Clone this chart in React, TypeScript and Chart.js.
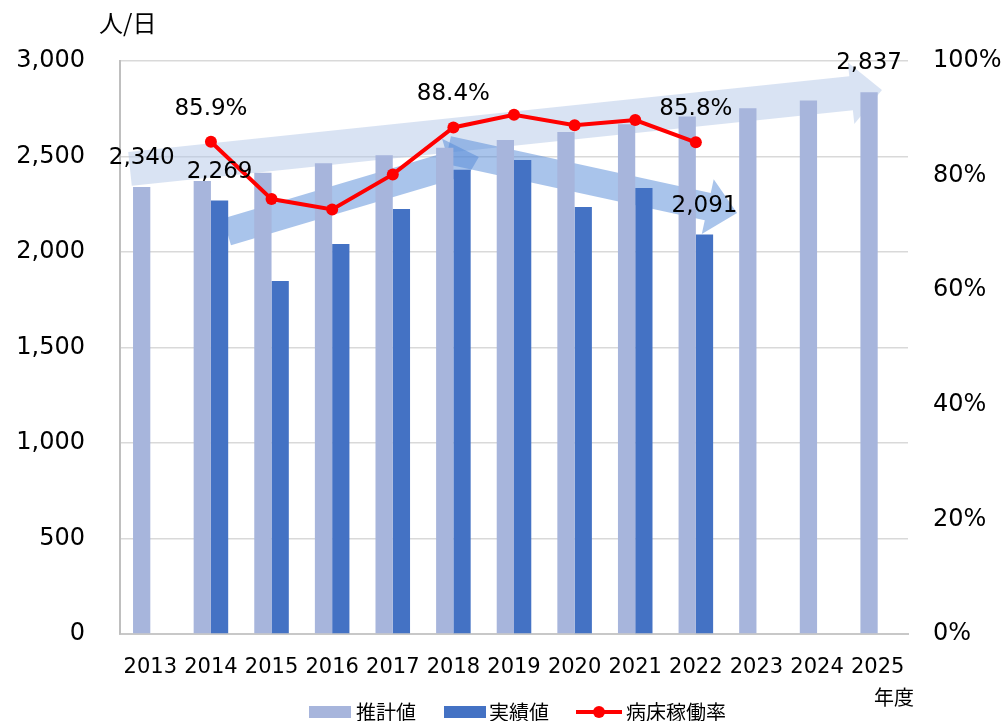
import React, { useEffect, useRef } from "react";
import { Chart, registerables } from "chart.js";

Chart.register(...registerables);

// ---- data ----
const CATEGORIES = ["2013", "2014", "2015", "2016", "2017", "2018", "2019", "2020", "2021", "2022", "2023", "2024", "2025"];
const ESTIMATE = [2340, 2372, 2415, 2465, 2506, 2546, 2587, 2628, 2669, 2709, 2753, 2793, 2837];
const ACTUAL = [null, 2269, 1848, 2042, 2225, 2430, 2482, 2236, 2335, 2091, null, null, null];
const OCCUPANCY = [null, 85.9, 75.9, 74.1, 80.2, 88.4, 90.6, 88.8, 89.7, 85.8, null, null, null];
const Y_TICKS = [0, 500, 1000, 1500, 2000, 2500, 3000];
const PCT_TICKS = [0, 20, 40, 60, 80, 100];

// indices that carry a data label
const ESTIMATE_LABEL_IDX = [0, 12];
const ACTUAL_LABEL_IDX = [1, 9];
const OCCUPANCY_LABEL_IDX = [1, 5, 9];

// trend arrows in data coordinates [category index, value]
const ARROW_TAILS = [[-0.335, 2435], [1.265, 2105], [4.91, 2534]];
const ARROW_TIPS = [[12.07, 2848], [5.42, 2497], [9.68, 2204]];

const LIGHT = "#a7b5dc";
const DARK = "#4472c4";
const RED = "#ff0000";
const FONT = "'DejaVu Sans', Verdana, sans-serif";
const JP = "'Noto Sans CJK JP', sans-serif";

const ARROW_STYLE = [
  { color: "rgba(180,199,231,0.5)", shaft: 17, head: 31, headLen: 31 },
  { color: "rgba(83,137,215,0.5)", shaft: 14, head: 28, headLen: 30 },
  { color: "rgba(83,137,215,0.5)", shaft: 14, head: 28, headLen: 30 },
];

function drawArrow(ctx: CanvasRenderingContext2D, x0: number, y0: number, x1: number, y1: number, st: any) {
  const dx = x1 - x0, dy = y1 - y0;
  const len = Math.hypot(dx, dy);
  const ux = dx / len, uy = dy / len;
  const px = -uy, py = ux;
  const bx = x1 - ux * st.headLen, by = y1 - uy * st.headLen;
  ctx.beginPath();
  ctx.moveTo(x0 + px * st.shaft, y0 + py * st.shaft);
  ctx.lineTo(bx + px * st.shaft, by + py * st.shaft);
  ctx.lineTo(bx + px * st.head, by + py * st.head);
  ctx.lineTo(x1, y1);
  ctx.lineTo(bx - px * st.head, by - py * st.head);
  ctx.lineTo(bx - px * st.shaft, by - py * st.shaft);
  ctx.lineTo(x0 - px * st.shaft, y0 - py * st.shaft);
  ctx.closePath();
  ctx.fillStyle = st.color;
  ctx.fill();
}

const decorPlugin = {
  id: "decor",
  beforeDatasetsDraw(chart: any) {
    const { ctx, scales } = chart;
    ctx.save();
    ARROW_TAILS.forEach((t, i) => {
      const tip = ARROW_TIPS[i];
      drawArrow(
        ctx,
        scales.x.getPixelForValue(t[0]),
        scales.y.getPixelForValue(t[1]),
        scales.x.getPixelForValue(tip[0]),
        scales.y.getPixelForValue(tip[1]),
        ARROW_STYLE[i]
      );
    });
    ctx.restore();
  },
  afterDatasetsDraw(chart: any) {
    const { ctx } = chart;
    ctx.save();
    ctx.fillStyle = "#000";
    ctx.textAlign = "center";
    ctx.textBaseline = "middle";
    ctx.font = `23px ${FONT}`;
    const fmt = (v: number) => v.toLocaleString("en-US");
    const m0 = chart.getDatasetMeta(0);
    ESTIMATE_LABEL_IDX.forEach((i) => {
      const el = m0.data[i];
      ctx.fillText(fmt(ESTIMATE[i]), el.x, el.y - 29);
    });
    const m1 = chart.getDatasetMeta(1);
    ACTUAL_LABEL_IDX.forEach((i) => {
      const el = m1.data[i];
      ctx.fillText(fmt(ACTUAL[i] as number), el.x, el.y - 29);
    });
    const m2 = chart.getDatasetMeta(2);
    OCCUPANCY_LABEL_IDX.forEach((i) => {
      const el = m2.data[i];
      ctx.fillText((OCCUPANCY[i] as number).toFixed(1) + "%", el.x, el.y - 33);
    });

    // axis titles
    ctx.font = `24px ${JP}`;
    ctx.textAlign = "left";
    ctx.fillText("人/日", 99, 23);
    ctx.font = `20px ${JP}`;
    ctx.textAlign = "center";
    ctx.fillText("年度", 894, 697);

    // legend
    ctx.font = `20px ${JP}`;
    ctx.textAlign = "left";
    const ly = 712;
    ctx.fillStyle = LIGHT;
    ctx.fillRect(309, ly - 6, 42, 12);
    ctx.fillStyle = "#000";
    ctx.fillText("推計値", 356, ly);
    ctx.fillStyle = DARK;
    ctx.fillRect(444, ly - 6, 42, 12);
    ctx.fillStyle = "#000";
    ctx.fillText("実績値", 489, ly);
    ctx.strokeStyle = RED;
    ctx.lineWidth = 4;
    ctx.beginPath();
    ctx.moveTo(576, ly);
    ctx.lineTo(622, ly);
    ctx.stroke();
    ctx.fillStyle = RED;
    ctx.beginPath();
    ctx.arc(599, ly, 6, 0, Math.PI * 2);
    ctx.fill();
    ctx.fillStyle = "#000";
    ctx.fillText("病床稼働率", 626, ly);
    ctx.restore();
  },
};

export default function App() {
  const ref = useRef<HTMLCanvasElement>(null);
  useEffect(() => {
    document.body.style.margin = "0";
    const chart = new Chart(ref.current as HTMLCanvasElement, {
      type: "bar",
      data: {
        labels: CATEGORIES,
        datasets: [
          {
            type: "bar",
            label: "推計値",
            data: ESTIMATE,
            backgroundColor: LIGHT,
            yAxisID: "y",
            order: 2,
            categoryPercentage: 0.57,
            barPercentage: 1.0,
          },
          {
            type: "bar",
            label: "実績値",
            data: ACTUAL,
            backgroundColor: DARK,
            yAxisID: "y",
            order: 2,
            categoryPercentage: 0.57,
            barPercentage: 1.0,
          },
          {
            type: "line",
            label: "病床稼働率",
            data: OCCUPANCY,
            borderColor: RED,
            backgroundColor: RED,
            borderWidth: 4,
            pointRadius: 6,
            pointBackgroundColor: RED,
            pointBorderColor: RED,
            pointBorderWidth: 0,
            yAxisID: "y1",
            order: 0,
            spanGaps: false,
          },
        ] as any,
      },
      options: {
        animation: false,
        responsive: false,
        maintainAspectRatio: false,
        layout: { padding: { top: 61, left: 0, right: 0, bottom: 0 } },
        plugins: { legend: { display: false }, tooltip: { enabled: false } },
        scales: {
          x: {
            grid: { display: false, drawTicks: false },
            border: { display: true, color: "#c8c8c8", width: 2 },
            ticks: { color: "#000", font: { family: FONT, size: 21 }, padding: 21, maxRotation: 0, autoSkip: false },
            afterFit: (s: any) => { s.height = 87; },
          },
          y: {
            position: "left",
            min: 0,
            max: 3000,
            afterBuildTicks: (s: any) => { s.ticks = Y_TICKS.map((v) => ({ value: v })); },
            grid: { color: "#d9d9d9", lineWidth: 1.5, drawTicks: false },
            border: { display: true, color: "#bfbfbf", width: 2 },
            ticks: { color: "#000", font: { family: FONT, size: 24 }, padding: 35, callback: (v: any) => Number(v).toLocaleString("en-US") },
            afterFit: (s: any) => { s.width = 120; },
          },
          y1: {
            position: "right",
            min: 0,
            max: 100,
            afterBuildTicks: (s: any) => { s.ticks = PCT_TICKS.map((v) => ({ value: v })); },
            grid: { display: false, drawTicks: false },
            border: { display: false },
            ticks: { color: "#000", font: { family: FONT, size: 24 }, padding: 25, callback: (v: any) => v + "%" },
            afterFit: (s: any) => { s.width = 99; },
          },
        },
      } as any,
      plugins: [decorPlugin],
    });
    return () => chart.destroy();
  }, []);
  return (
    <div style={{ position: "absolute", left: 0, top: 0, width: 1007, height: 721 }}>
      <canvas ref={ref} width={1007} height={721} style={{ width: 1007, height: 721 }} />
    </div>
  );
}
